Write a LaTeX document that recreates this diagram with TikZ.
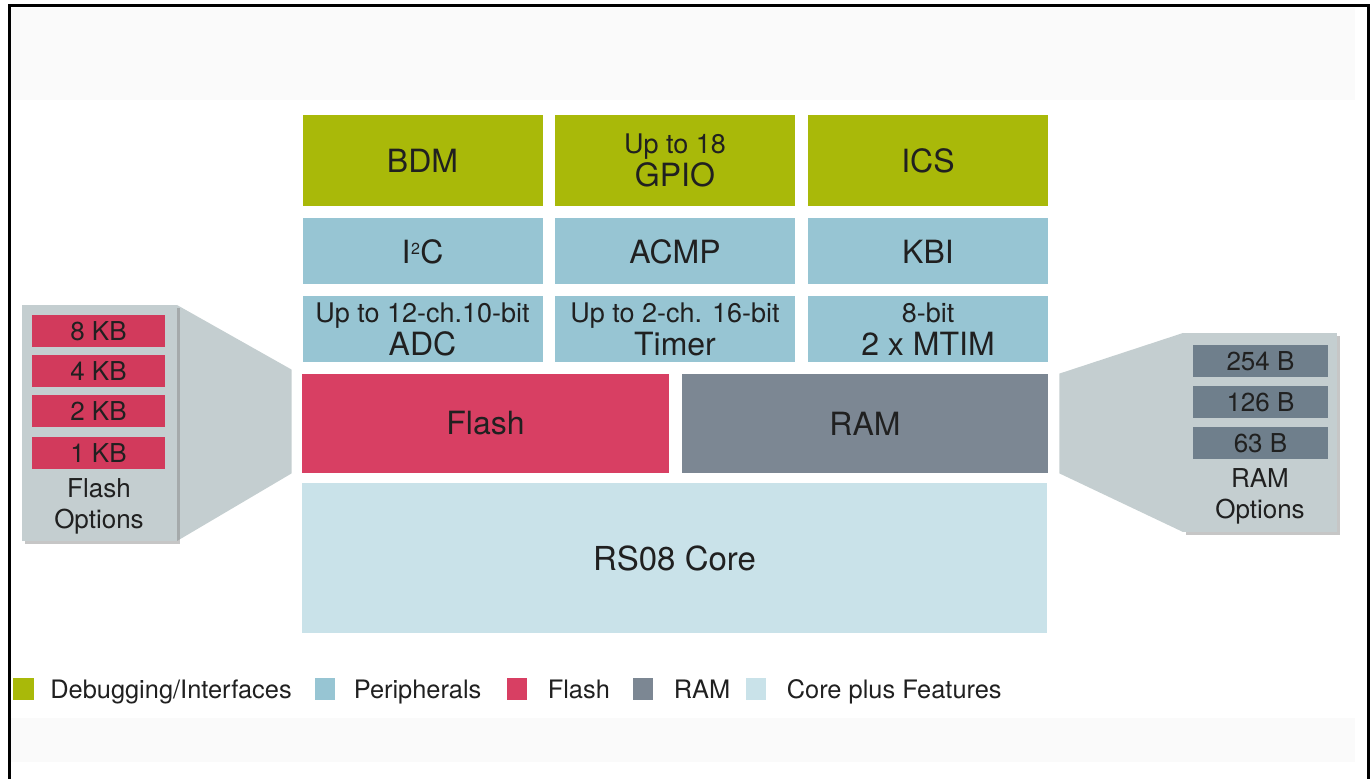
\documentclass[tikz,border=0pt]{standalone}
\usepackage{fontspec}
\setmainfont{TeX Gyre Heros}
\usetikzlibrary{positioning,shadows}
\definecolor{dbggreen}{HTML}{A9B909}
\definecolor{periblue}{HTML}{97C5D3}
\definecolor{flashred}{HTML}{D83F63}
\definecolor{ramgray}{HTML}{7C8793}
\definecolor{corecyan}{HTML}{C9E2E9}
\definecolor{panelgray}{HTML}{C4CED0}
\definecolor{optred}{HTML}{D23A5C}
\definecolor{optgray}{HTML}{6F7F8C}
\definecolor{txtgray}{HTML}{202020}
\definecolor{bandgray}{HTML}{FAFAFA}
\newcommand{\blktxt}{\fontsize{16}{16.5}\selectfont}
\newcommand{\subtxt}{\fontsize{13.5}{16.5}\selectfont}
\newcommand{\opttxt}{\fontsize{13}{15.5}\selectfont}
\newcommand{\legtxt}{\fontsize{12.7}{15}\selectfont}
\newcommand{\supii}{\raisebox{4.2pt}{\fontsize{8}{8}\selectfont 2}}

\begin{document}
\begin{tikzpicture}[x=0.5pt,y=-0.5pt]
\tikzstyle{every node}=[font=\blktxt,text=txtgray,inner sep=0pt]
\tikzstyle{blk}=[minimum width=120pt,align=center]
\tikzstyle{dbg}=[blk,fill=dbggreen,minimum height=45.5pt]
\tikzstyle{peri}=[blk,fill=periblue,minimum height=33pt]
\tikzstyle{optpanel}=[fill=panelgray,drop shadow={shadow xshift=1.5pt,shadow yshift=-1.5pt,opacity=0.45}]
\tikzstyle{optbox}=[font=\opttxt,minimum height=16pt]
\tikzstyle{legsq}=[minimum width=10pt,minimum height=11pt]
\tikzstyle{legtext}=[font=\legtxt,text height=9.5pt,text depth=2.5pt,yshift=-1.5pt]
\useasboundingbox (0,0) rectangle (1372,779);
\fill[bandgray] (11,8) rectangle (1355,100);
\fill[bandgray] (11,718) rectangle (1355,762);
\draw[line width=1.5pt] (9,779)--(9,6)--(1368,6)--(1368,779);

\node[dbg] (bdm) at (422.5,160.5) {BDM};
\node[dbg] (gpio) at (675,160.5) {{\subtxt Up to 18}\\GPIO};
\node[dbg] (ics) at (928,160.5) {ICS};
\node[peri] (i2c) at (422.5,251.5) {I\kern0.3pt\supii\kern0.2pt C};
\node[peri] (acmp) at (675,251.5) {ACMP};
\node[peri] (kbi) at (928,251.5) {KBI};
\node[peri] (adc) at (422.5,329) {{\subtxt Up to 12-ch.10-bit}\\ADC};
\node[peri] (timer) at (675,329) {{\subtxt Up to 2-ch. 16-bit}\\Timer};
\node[peri] (mtim) at (928,329) {{\subtxt 8-bit}\\2 x MTIM};
\node[fill=flashred,minimum width=183.5pt,minimum height=49.5pt] (flash) at (485.5,423.5) {Flash};
\node[fill=ramgray,minimum width=183pt,minimum height=49.5pt] (ram) at (865,423.5) {RAM};
\node[fill=corecyan,minimum width=372.5pt,minimum height=75pt,font=\fontsize{16.5}{18}\selectfont] (core) at (674.5,558) {RS08 Core};

\path (99.5,423) coordinate (flashoptc) (1260,432.5) coordinate (ramoptc);
\fill[panelgray] ([shift={(38.75pt,59pt)}]flashoptc) -- ([xshift=-5pt,yshift=2pt]flash.north west)
  -- ([xshift=-5pt]flash.south west) -- ([shift={(38.75pt,-59pt)}]flashoptc) -- cycle;
\fill[panelgray] ([shift={(-38.5pt,49.75pt)}]ramoptc) -- ([xshift=5.5pt]ram.north east)
  -- ([xshift=5.5pt]ram.south east) -- ([shift={(-38.5pt,-49.75pt)}]ramoptc) -- cycle;
\node[optpanel,minimum width=77.5pt,minimum height=118pt] (flashopt) at (flashoptc) {};
\node[optpanel,minimum width=77pt,minimum height=99.5pt] (ramopt) at (ramoptc) {};

\foreach \sz/\y [count=\i] in {8 KB/331,4 KB/371.5,2 KB/411.5,1 KB/453}
  \node[optbox,fill=optred,minimum width=66.5pt] (fopt\i) at (98.5,\y) {\sz};
\node[font=\opttxt,align=center] (flashopttxt) at (99,506) {Flash\\Options};
\foreach \sz/\y [count=\i] in {254 B/361,126 B/402,63 B/443}
  \node[optbox,fill=optgray,minimum width=67.5pt] (ropt\i) at (1260.5,\y) {\sz};
\node[font=\opttxt,align=center] (ramopttxt) at (1260,496.5) {RAM\\Options};

\node[legsq,fill=dbggreen,minimum width=10.5pt] (lgdbg) at (23,689) {};
\node[legtext,right=8pt of lgdbg] (lgdbgt) {Debugging/Interfaces};
\node[legsq,fill=periblue] (lgperi) at (325,689) {};
\node[legtext,right=9pt of lgperi] (lgperit) {Peripherals};
\node[legsq,fill=flashred] (lgflash) at (517,689) {};
\node[legtext,right=10pt of lgflash] (lgflasht) {Flash};
\node[legsq,fill=ramgray] (lgram) at (643,689) {};
\node[legtext,right=10pt of lgram] (lgramt) {RAM};
\node[legsq,fill=corecyan] (lgcore) at (756,689) {};
\node[legtext,right=10pt of lgcore] (lgcoret) {Core plus Features};
\end{tikzpicture}
\end{document}
